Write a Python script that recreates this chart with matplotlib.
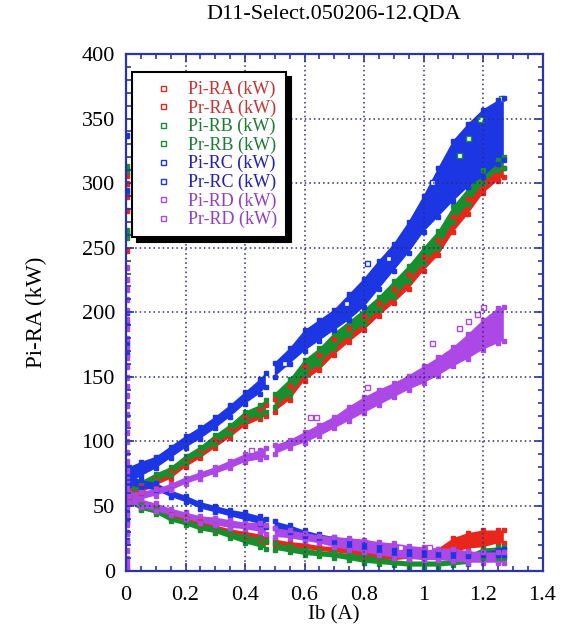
import numpy as np
import matplotlib
matplotlib.use("Agg")
import matplotlib.pyplot as plt
from matplotlib.lines import Line2D
from matplotlib.ticker import MultipleLocator

plt.rcParams['font.family'] = ['Liberation Serif', 'DejaVu Serif']

nan = np.nan

# beam current (A) where the bands were read; the nan row is the data gap near 0.485 A
ib = [0.01, 0.05, 0.1, 0.15, 0.2, 0.25, 0.3, 0.35, 0.4, 0.45, 0.47, 0.485, 0.5,
      0.55, 0.6, 0.65, 0.7, 0.75, 0.8, 0.85, 0.9, 0.95, 1.0, 1.05, 1.1, 1.15,
      1.2, 1.25, 1.27]

# incident power bands (kW), lower / upper edge of the scatter
pi_ra_lo = [57, 60, 66, 71, 80, 87, 95, 103, 112, 117, 120, nan, 123, 132, 147, 155, 167, 177, 186, 197, 207, 218, 232, 244, 262, 276, 292, 302, 305]
pi_ra_hi = [63, 66, 72, 77, 86, 93, 101, 110, 119, 125, 128, nan, 133, 143, 158, 167, 179, 188, 197, 207, 218, 230, 243, 256, 274, 288, 302, 310, 312]
pi_rb_lo = [60, 63, 69, 74, 83, 90, 98, 106, 116, 120, 123, nan, 127, 136, 152, 160, 172, 182, 191, 202, 212, 224, 238, 250, 270, 284, 300, 310, 312]
pi_rb_hi = [66, 69, 75, 80, 89, 96, 105, 113, 123, 128, 132, nan, 137, 148, 163, 172, 184, 193, 202, 212, 224, 236, 250, 263, 282, 296, 310, 318, 320]
pi_rc_lo = [68, 73, 79, 87, 95, 102, 110, 119, 129, 137, 142, nan, 150, 160, 170, 178, 186, 194, 204, 218, 232, 246, 262, 274, 286, 297, 305, 315, 318]
pi_rc_hi = [80, 84, 88, 96, 104, 111, 119, 128, 138, 148, 153, nan, 161, 172, 186, 194, 202, 214, 226, 240, 253, 270, 290, 312, 333, 346, 357, 364, 366]
pi_rd_lo = [53, 55, 58, 62, 67, 71, 75, 79, 84, 86, 88, nan, 90, 95, 99, 104, 110, 116, 122, 128, 134, 140, 145, 151, 158, 164, 171, 176, 178]
pi_rd_hi = [60, 61, 63, 67, 72, 76, 80, 85, 90, 93, 95, nan, 97, 101, 107, 113, 119, 127, 134, 140, 145, 151, 158, 165, 173, 183, 194, 203, 204]

# reflected power bands (kW)
pr_ra_lo = [52, 48, 45, 40, 37, 33, 31, 28, 26, 24, 22, nan, 20, 18, 17, 15, 14, 13, 11, 9, 8, 9, 10, 12, 14, 17, 18, 21, 21]
pr_ra_hi = [58, 53, 49, 44, 41, 38, 35, 32, 30, 28, 26, nan, 24, 22, 21, 19, 18, 17, 16, 14, 12, 13, 14, 17, 25, 29, 31, 31, 31]
pr_rb_lo = [52, 47, 44, 38, 35, 31, 29, 25, 21, 18, 17, nan, 16, 14, 12, 11, 10, 8, 6, 5, 4, 3, 3, 3, 4, 5, 10, 10, 10]
pr_rb_hi = [58, 52, 48, 42, 39, 36, 34, 30, 27, 25, 23, nan, 21, 19, 17, 15, 14, 13, 12, 10, 8, 7, 7, 7, 8, 12, 17, 18, 18]
pr_rc_lo = [66, 64, 62, 57, 53, 48, 45, 42, 39, 36, 34, nan, 33, 30, 27, 24, 22, 20, 18, 15, 12, 12, 11, 11, 11, 11, 12, 12, 12]
pr_rc_hi = [74, 70, 68, 62, 58, 53, 50, 47, 45, 42, 40, nan, 38, 35, 31, 28, 26, 24, 22, 19, 16, 15, 14, 14, 14, 14, 14, 16, 17]
pr_rd_lo = [52, 49, 46, 43, 40, 37, 35, 33, 32, 30, 28, nan, 26, 25, 23, 21, 18, 16, 14, 12, 10, 9, 8, 8, 7, 6, 6, 6, 6]
pr_rd_hi = [58, 55, 52, 48, 45, 42, 41, 39, 37, 37, 35, nan, 33, 31, 29, 27, 26, 25, 24, 22, 21, 19, 18, 17, 17, 15, 14, 14, 14]

# readings sitting at Ib = 0 (kW)
y0_ra = [248, 279, 290, 300, 306]
y0_rb = [258, 262, 264, 310, 313]
y0_rc = [337, 295, 200, 192, 176, 168, 45, 38, 30, 24]
y0_rd = [235, 226, 218, 210, 202, 195, 188, 180, 172, 165, 158, 150, 143, 136, 128, 121,
         114, 107, 100, 92, 85, 78, 71, 64, 50, 43, 36, 29, 22, 16, 10, 6, 3, 1]

# stray squares off the bands
xs_rb = [1.12, 1.15, 1.19, 1.26]
ys_rb = [322, 335, 350, 366]
xs_rc = [0.53, 0.74, 0.81, 0.88, 1.03]
ys_rc = [161, 207, 238, 242, 301]
xs_rd = [0.42, 0.62, 0.64, 0.81, 1.03, 1.12, 1.15, 1.18, 1.2, 0.92, 1.02]
ys_rd = [93, 119, 119, 142, 176, 188, 193, 199, 204, 18, 18]

labels = ['Pi-RA (kW)', 'Pr-RA (kW)', 'Pi-RB (kW)', 'Pr-RB (kW)',
          'Pi-RC (kW)', 'Pr-RC (kW)', 'Pi-RD (kW)', 'Pr-RD (kW)']

red = '#e8261c'
green = '#16902e'
blue = '#1c36e4'
purple = '#ac48e6'
frame = '#2b36a8'

fig = plt.figure(figsize=(5.67, 6.33), dpi=100)
ax = fig.add_axes([126 / 567, 1 - 570.5 / 633, 416.5 / 567, 516.5 / 633])

x = np.array(ib)


def band(lo, hi, col):
    lo = np.array(lo, dtype=float)
    hi = np.array(hi, dtype=float)
    ax.fill_between(x, lo, hi, color=col, lw=0)
    ax.plot(x, lo, 's', ms=3.4, color=col, mec=col)
    ax.plot(x, hi, 's', ms=3.4, color=col, mec=col)


def loose(y0, xs, ys, col):
    ax.plot([0.0] * len(y0), y0, 's', ms=3.6, color=col, mec=col)
    if xs:
        ax.plot(xs, ys, 's', ms=3.6, mfc='white', mec=col, mew=1.0)


band(pi_ra_lo, pi_ra_hi, red)
band(pr_ra_lo, pr_ra_hi, red)
loose(y0_ra, [], [], red)
band(pi_rb_lo, pi_rb_hi, green)
band(pr_rb_lo, pr_rb_hi, green)
loose(y0_rb, xs_rb, ys_rb, green)
band(pi_rc_lo, pi_rc_hi, blue)
band(pr_rc_lo, pr_rc_hi, blue)
loose(y0_rc, xs_rc, ys_rc, blue)
band(pi_rd_lo, pi_rd_hi, purple)
band(pr_rd_lo, pr_rd_hi, purple)
loose(y0_rd, xs_rd, ys_rd, purple)

ax.set_xlim(0, 1.4)
ax.set_ylim(0, 400)
ax.set_xticks([0, 0.2, 0.4, 0.6, 0.8, 1.0, 1.2, 1.4])
ax.set_xticklabels(['0', '0.2', '0.4', '0.6', '0.8', '1', '1.2', '1.4'])
ax.set_yticks(range(0, 401, 50))
ax.xaxis.set_minor_locator(MultipleLocator(0.05))
ax.yaxis.set_minor_locator(MultipleLocator(10))
ax.tick_params(which='both', direction='in', top=True, right=True, color=frame,
               width=1.2, labelsize=16)
ax.tick_params(which='major', length=6)
ax.tick_params(which='minor', length=3.5)
ax.tick_params(axis='x', pad=11)
ax.tick_params(axis='y', pad=8)
for s in ax.spines.values():
    s.set_color(frame)
    s.set_linewidth(1.6)
ax.grid(True, which='major', color='#2a2a80', linestyle=(0, (1, 2)), lw=1.1)
ax.set_axisbelow(False)

ax.set_xlabel('Ib (A)', fontsize=15, labelpad=0)
ax.set_ylabel('Pi-RA (kW)', fontsize=16.5, labelpad=25)
fig.text(334 / 567, 1 - 15 / 633, 'D11-Select.050206-12.QDA', fontsize=16,
         ha='center', va='center')

cols = [red, red, green, green, blue, blue, purple, purple]
text_cols = ['#c83232', '#c83232', '#1e7a34', '#1e7a34', '#2020b4', '#2020b4', '#9040c4', '#9040c4']
handles = [Line2D([], [], ls='none', marker='s', ms=3.6, mfc='white', mec=c, mew=1.0)
           for c in cols]
leg = ax.legend(handles, labels, loc='upper left', bbox_to_anchor=(0.0137, 0.9657),
                borderaxespad=0, fontsize=13, labelspacing=0.07, handlelength=2.5,
                handletextpad=0.1, borderpad=0.5, fancybox=False, framealpha=1,
                edgecolor='black',
                shadow={'color': 'black', 'alpha': 1, 'ox': 3.5, 'oy': -3.5})
leg.get_frame().set_linewidth(1.5)
for t, c in zip(leg.get_texts(), text_cols):
    t.set_color(c)

fig.savefig('out.png', dpi=100)
